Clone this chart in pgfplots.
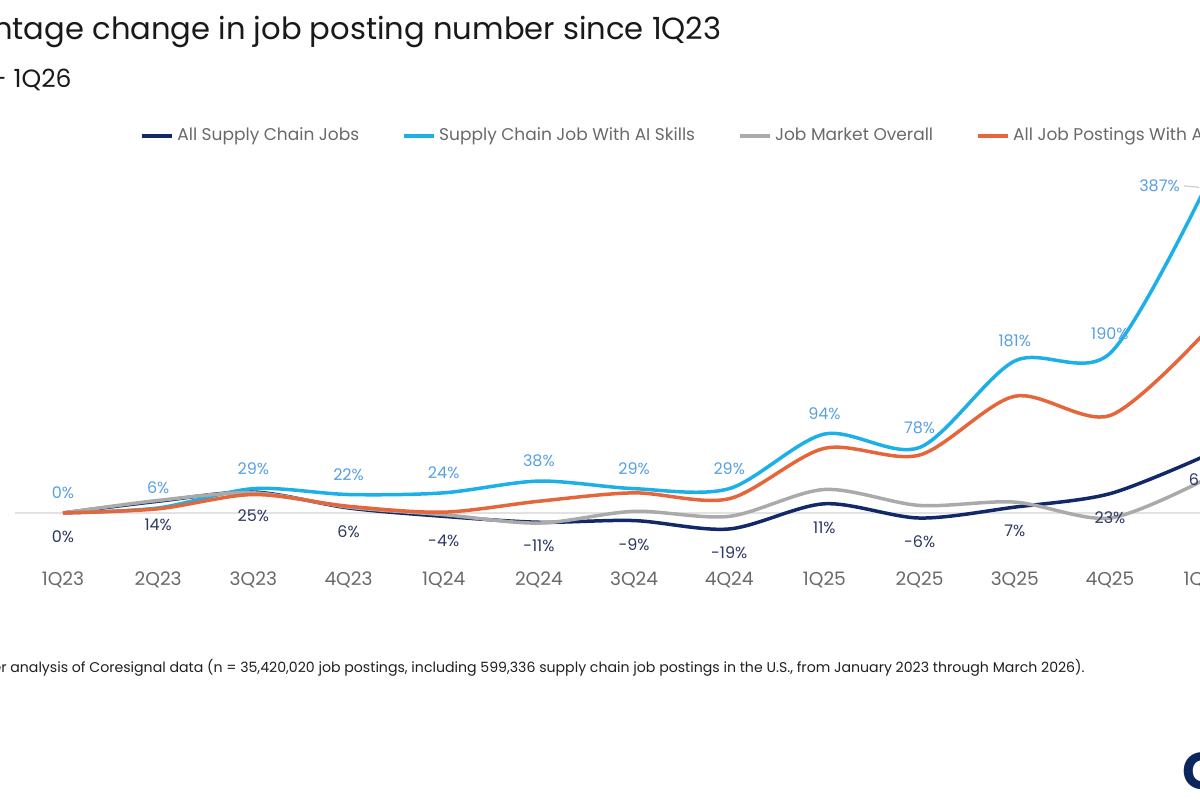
\documentclass[border=0pt]{standalone}
\usepackage{pgfplots}
\pgfplotsset{compat=1.18}
\usepackage{pgfplotstable}
\usepackage{fontspec}
\setmainfont{Poppins}

\definecolor{scnavy}{RGB}{18,40,104}
\definecolor{sccyan}{RGB}{29,176,230}
\definecolor{scgrey}{RGB}{170,170,170}
\definecolor{scorange}{RGB}{230,102,60}
\definecolor{cyanlab}{RGB}{88,160,226}
\definecolor{navylab}{RGB}{44,56,98}
\definecolor{ticktext}{RGB}{105,105,105}
\definecolor{zeroline}{RGB}{226,226,226}
\definecolor{logonavy}{RGB}{10,38,90}

% Percentage change since 1Q23, one row per quarter
\pgfplotstableread{
x  navy cyan grey orange
0  0    0    0    0
1  14   6    15   5
2  25   29   24   22
3  6    22   7    8
4  -4   24   -2   1
5  -11  38   -12  14
6  -9   29   2    24
7  -19  29   -4   17
8  11   94   28   77
9  -6   78   9    69
10 7    181  13   139
11 23   190  -6   116
12 68   387  40   215
}\postings

\begin{document}
\begin{tikzpicture}
\useasboundingbox (0,0) rectangle (600pt,400pt);
\clip (0,0) rectangle (600pt,400pt);

% titles
\node[anchor=east, inner sep=0pt, font=\fontsize{15.3}{17}\selectfont, text=black!90]
  at (361pt,384pt) {Percentage change in job posting number since 1Q23};
\node[anchor=east, inner sep=0pt, font=\fontsize{12.5}{14}\selectfont, text=black!90]
  at (36pt,360pt) {1Q23 - 1Q26};

\begin{axis}[
  at={(7.7pt,117.5pt)}, anchor=south west,
  scale only axis, width=618.65pt, height=207.5pt,
  xmin=-0.5, xmax=12.5, ymin=-61.9, ymax=432.14,
  axis line style={draw=none}, tick style={draw=none},
  ytick=\empty,
  xtick={0,...,12},
  xticklabels={1Q23,2Q23,3Q23,4Q23,1Q24,2Q24,3Q24,4Q24,1Q25,2Q25,3Q25,4Q25,1Q26},
  xticklabel style={anchor=center, yshift=-7.5pt, text=ticktext, font=\fontsize{9.3}{11}\selectfont},
  clip=false,
  legend columns=4,
  legend cell align=left,
  legend image code/.code={\draw[#1, line width=2pt] (0pt,0pt) -- (15pt,0pt);},
  legend style={draw=none, fill=none, inner sep=0pt, at={(0.1007,1.0337)}, anchor=west,
    font=\fontsize{8.5}{10}\selectfont, text=ticktext,
    nodes={inner xsep=1.5pt},
    /tikz/every even column/.append style={column sep=20pt}},
  every axis plot/.append style={line width=1.75pt, smooth, mark=none},
]
\addplot[zeroline, line width=0.8pt, smooth=false, forget plot] coordinates {(-0.5,0) (12.5,0)};

\addplot[scnavy] table[x=x, y=navy] {\postings};
\addlegendentry{All Supply Chain Jobs}
\addplot[sccyan] table[x=x, y=cyan] {\postings};
\addlegendentry{Supply Chain Job With AI Skills}
\addplot[scgrey] table[x=x, y=grey] {\postings};
\addlegendentry{Job Market Overall}
\addplot[scorange] table[x=x, y=orange] {\postings};
\addlegendentry{All Job Postings With AI}

% value labels
\addplot[draw=none, forget plot,
  nodes near coords={\pgfmathprintnumber[assume math mode=true]{\pgfplotspointmeta}\%},
  every node near coord/.append style={anchor=center, yshift=-12pt, text=navylab,
    font=\fontsize{8}{10}\selectfont}]
  table[x=x, y=navy] {\postings};
\addplot[draw=none, forget plot, skip coords between index={12}{13},
  nodes near coords={\pgfmathprintnumber[assume math mode=true]{\pgfplotspointmeta}\%},
  every node near coord/.append style={anchor=center, yshift=10pt, text=cyanlab,
    font=\fontsize{8}{10}\selectfont}]
  table[x=x, y=cyan] {\postings};
\node[anchor=east, inner sep=0pt, text=cyanlab, font=\fontsize{8}{10}\selectfont]
  at ([xshift=-12.5pt, yshift=1pt]axis cs:12,387) {387\%};
\draw[gray!40, line width=0.6pt] ([xshift=-10.5pt, yshift=1pt]axis cs:12,387) -- ([xshift=-3pt, yshift=0.3pt]axis cs:12,387);
\end{axis}

% source line and logo
\node[anchor=east, inner sep=0pt, font=\fontsize{7.06}{8.5}\selectfont, text=black!88]
  at (542.5pt,66pt) {Source: Gartner analysis of Coresignal data (n = 35,420,020 job postings, including 599,336 supply chain job postings in the U.S., from January 2023 through March 2026).};
\node[anchor=west, inner sep=0pt, font=\bfseries\fontsize{26}{28}\selectfont, text=logonavy]
  at (591pt,14.5pt) {G};
\end{tikzpicture}
\end{document}
